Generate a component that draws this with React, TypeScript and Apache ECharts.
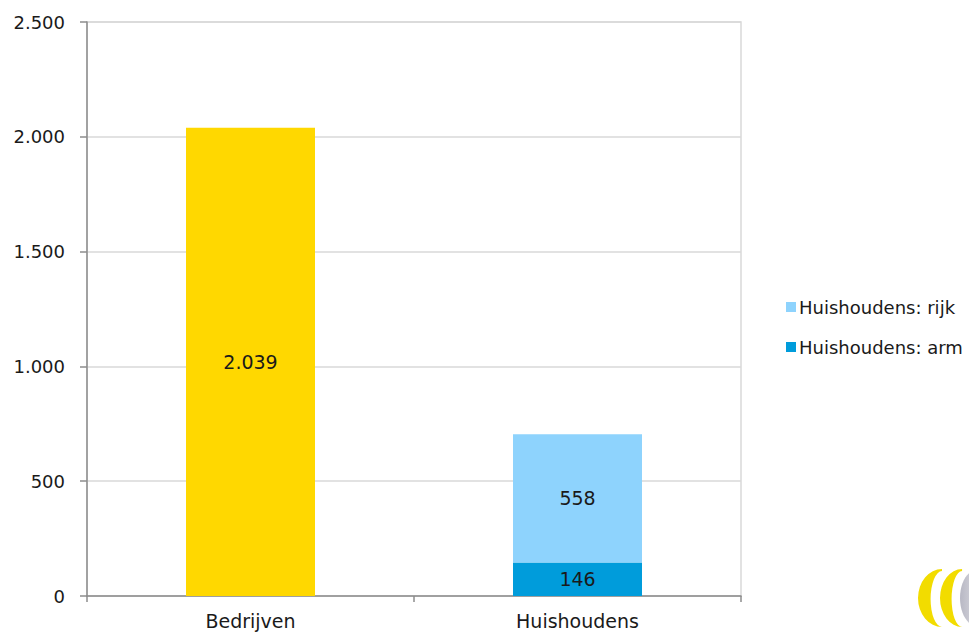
import React, { useEffect, useRef } from "react";
import * as echarts from "echarts";

const categories = ["Bedrijven", "Huishoudens"];
const bedrijven = [2039, null];
const huishoudensRijk = [null, 558];
const huishoudensArm = [null, 146];
const legendNames = ["Huishoudens: rijk", "Huishoudens: arm"];
const yTicks = { min: 0, max: 2500, interval: 500 };

const fmt = (v: number) => String(v).replace(/\B(?=(\d{3})+(?!\d))/g, ".");

const FONT = "DejaVu Sans";
const TEXT = "#1a1a1a";

echarts.graphic.registerShape(
  "crescent",
  echarts.graphic.extendPath(
    "M 24 0 A 24 29 0 0 0 24 58 A 11 27 0 0 1 24 2 Z",
    {}
  )
);

export default function App() {
  const ref = useRef<HTMLDivElement>(null);
  useEffect(() => {
    if (!ref.current) return;
    const chart = echarts.init(ref.current, null, { renderer: "svg" });
    const labelStyle = {
      show: true,
      position: "inside",
      color: TEXT,
      fontFamily: FONT,
      fontSize: 19,
      formatter: (p: any) => fmt(p.value),
    };
    chart.setOption({
      animation: false,
      backgroundColor: "#ffffff",
      textStyle: { fontFamily: FONT },
      grid: {
        left: 87,
        top: 22,
        right: 228,
        bottom: 36,
        show: true,
        borderColor: "#d9d9d9",
        borderWidth: 1.5,
      },
      legend: {
        data: legendNames,
        orient: "vertical",
        left: 781,
        top: 293,
        itemWidth: 10,
        itemHeight: 10,
        itemGap: 22,
        icon: "rect",
        textStyle: { color: TEXT, fontFamily: FONT, fontSize: 18, padding: [0, 0, 0, -2] },
      },
      xAxis: {
        type: "category",
        data: categories,
        axisLine: { lineStyle: { color: "#8c8c8c", width: 1.5 } },
        axisTick: { show: true, length: 6, lineStyle: { color: "#8c8c8c", width: 1.5 } },
        axisLabel: { color: TEXT, fontFamily: FONT, fontSize: 19, margin: 15 },
        splitLine: { show: false },
      },
      yAxis: {
        type: "value",
        min: yTicks.min,
        max: yTicks.max,
        interval: yTicks.interval,
        axisLine: { show: true, lineStyle: { color: "#8c8c8c", width: 1.5 } },
        axisTick: { show: true, length: 7, lineStyle: { color: "#8c8c8c", width: 1.5 } },
        axisLabel: {
          color: TEXT,
          fontFamily: FONT,
          fontSize: 18,
          margin: 22,
          formatter: (v: number) => fmt(v),
        },
        splitLine: { show: true, lineStyle: { color: "#d9d9d9", width: 1.5 } },
      },
      series: [
        {
          name: "Bedrijven",
          type: "bar",
          stack: "total",
          barWidth: 129,
          data: bedrijven,
          itemStyle: { color: "#FFD800" },
          label: labelStyle,
        },
        {
          name: "Huishoudens: arm",
          type: "bar",
          stack: "total",
          barWidth: 129,
          data: huishoudensArm,
          itemStyle: { color: "#009CDB" },
          label: labelStyle,
        },
        {
          name: "Huishoudens: rijk",
          type: "bar",
          stack: "total",
          barWidth: 129,
          data: huishoudensRijk,
          itemStyle: { color: "#8ED3FD" },
          label: labelStyle,
        },
      ],
      graphic: [
        {
          type: "ellipse",
          shape: { cx: 977, cy: 598, rx: 17, ry: 28 },
          style: {
            fill: {
              type: "linear",
              x: 0,
              y: 0,
              x2: 1,
              y2: 0,
              colorStops: [
                { offset: 0, color: "#b8b8c4" },
                { offset: 1, color: "#f4f4f6" },
              ],
            },
          },
        },
        {
          type: "crescent",
          x: 918,
          y: 569,
          style: { fill: "#F2DC00" },
        },
        {
          type: "crescent",
          x: 940,
          y: 569,
          scaleX: 0.92,
          style: { fill: "#F2DC00" },
        },
      ],
    });
    return () => chart.dispose();
  }, []);
  return (
    <div
      ref={ref}
      style={{ position: "absolute", left: 0, top: 0, width: 969, height: 632 }}
    />
  );
}
